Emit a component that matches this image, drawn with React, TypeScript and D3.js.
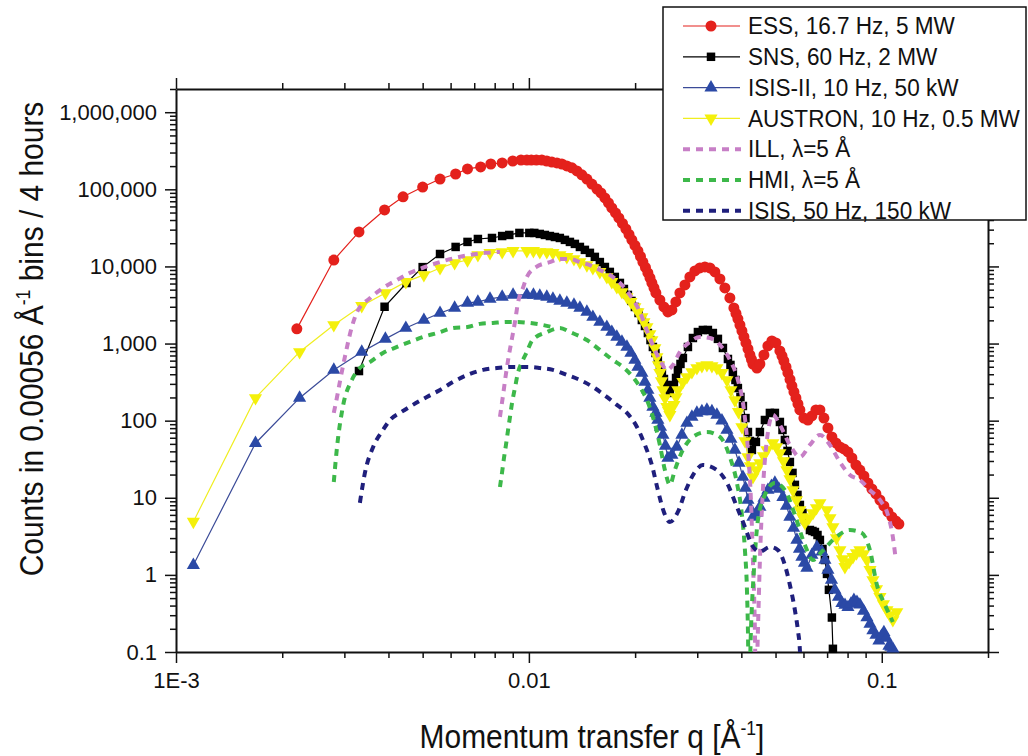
import React, { useEffect, useRef } from 'react';
import * as d3 from 'd3';

type Pt = [number, number];

// q [1/A], counts per 0.00056 1/A bin in 4 hours
const essData: Pt[] = [
  [0.0022, 1550], [0.0028, 12100], [0.0033, 28000], [0.0039, 54000], [0.0044, 80000],
  [0.005, 107000], [0.0056, 136000], [0.0062, 158000], [0.0067, 184000], [0.0073, 195000],
  [0.0078, 213000], [0.0084, 220000], [0.009, 233000], [0.0095, 240000], [0.00987, 240000],
  [0.01016, 240000], [0.0105, 240000], [0.01088, 240000], [0.01124, 233000], [0.01162, 226000],
  [0.01201, 220000], [0.0124, 213000], [0.01281, 201000], [0.01324, 190000], [0.01368, 173000],
  [0.01413, 154000], [0.0146, 136000], [0.01508, 117000], [0.01559, 101000], [0.016, 89800],
  [0.01642, 77300], [0.01681, 66600], [0.01718, 57400], [0.0176, 49400], [0.01799, 42600],
  [0.01842, 36100], [0.01883, 30600], [0.01922, 26000], [0.01958, 22100], [0.01998, 18700],
  [0.02037, 15900], [0.02071, 13500], [0.02104, 11400], [0.0214, 9700], [0.02174, 8240],
  [0.02204, 7100], [0.02231, 6110], [0.02262, 5260], [0.0229, 4530], [0.02351, 3670],
  [0.02413, 2980], [0.02477, 2570], [0.02542, 2730], [0.02609, 3470], [0.02679, 4530],
  [0.02768, 5750], [0.02859, 7310], [0.02954, 8750], [0.03052, 9550], [0.03153, 9840],
  [0.03258, 9550], [0.03366, 8490], [0.03478, 6890], [0.03593, 5260], [0.03712, 3900],
  [0.0381, 2900], [0.03862, 2460], [0.03911, 2090], [0.03964, 1740], [0.04015, 1460],
  [0.04069, 1220], [0.04122, 1020], [0.04177, 851], [0.0423, 711], [0.04274, 622],
  [0.04314, 543], [0.04428, 482], [0.04515, 543], [0.04635, 711], [0.04757, 931],
  [0.04882, 1080], [0.05012, 1020], [0.05144, 802], [0.05215, 690], [0.0528, 594],
  [0.05353, 497], [0.0542, 416], [0.05495, 342], [0.05563, 282], [0.05638, 236],
  [0.05711, 197], [0.05787, 165], [0.05861, 138], [0.06016, 108], [0.06176, 102],
  [0.06339, 115], [0.06507, 138], [0.06679, 138], [0.06856, 108], [0.07038, 80.4],
  [0.07222, 61.5], [0.07414, 51.4], [0.0761, 45.6], [0.07812, 43], [0.08019, 39.3],
  [0.08229, 32.8], [0.08448, 26.6], [0.0867, 22.9], [0.089, 19.2], [0.09136, 15.6],
  [0.09376, 13], [0.09625, 11.2], [0.0988, 9.36], [0.1014, 7.83], [0.1041, 6.55],
  [0.1068, 5.64], [0.1096, 5.0], [0.1118, 4.57],
];

const snsData: Pt[] = [
  [0.0033, 440], [0.0039, 3000], [0.0045, 6100], [0.005, 9800], [0.0056, 14500],
  [0.0062, 17900], [0.0067, 20800], [0.00717, 22700], [0.00786, 23400], [0.0084, 24800],
  [0.0088, 25600], [0.0094, 27200], [0.01003, 27200], [0.01036, 27200], [0.01074, 26400],
  [0.0111, 25600], [0.01147, 24800], [0.01185, 24100], [0.01224, 23400], [0.01265, 22100],
  [0.01307, 20800], [0.0135, 19600], [0.01395, 17900], [0.01441, 16400], [0.01489, 15000],
  [0.01538, 13300], [0.01589, 11400], [0.01642, 9840], [0.01696, 8490], [0.01752, 7310],
  [0.01811, 6110], [0.01859, 5100], [0.01908, 4270], [0.01953, 3570], [0.01997, 2980],
  [0.02045, 2490], [0.0209, 2020], [0.02133, 1690], [0.02174, 1370], [0.02211, 1110],
  [0.02246, 903], [0.02284, 755], [0.0232, 612], [0.02352, 512], [0.02382, 416],
  [0.02414, 347], [0.02445, 290], [0.02479, 258], [0.02509, 229], [0.02576, 290],
  [0.02612, 358], [0.02644, 455], [0.02689, 544], [0.02732, 650], [0.02823, 903],
  [0.02916, 1180], [0.03013, 1410], [0.03112, 1500], [0.03216, 1500], [0.03322, 1370],
  [0.03433, 1150], [0.03547, 877], [0.03665, 631], [0.03726, 528], [0.03785, 428],
  [0.03849, 337], [0.03911, 265], [0.03977, 203], [0.04041, 155], [0.04109, 108],
  [0.04176, 71.3], [0.04231, 54.5], [0.04285, 41.7], [0.04399, 53], [0.04515, 71.3],
  [0.04665, 102], [0.04819, 126], [0.04979, 126], [0.05144, 96.2], [0.05232, 75.8],
  [0.05315, 56.2], [0.05406, 40.5], [0.05491, 29.1], [0.05585, 21], [0.05673, 14.7],
  [0.05769, 10.9], [0.05861, 8.07], [0.05961, 6.35], [0.06056, 5.15], [0.06257, 3.82],
  [0.06362, 3.71], [0.06465, 3.6], [0.06574, 3.29], [0.06679, 2.84], [0.06792, 2.17],
  [0.069, 1.56], [0.06994, 1.03], [0.07083, 0.64], [0.07222, 0.28], [0.0727, 0.11],
];

const isis2Data: Pt[] = [
  [0.00112, 1.34], [0.00168, 51], [0.00224, 197], [0.0028, 455], [0.00336, 778],
  [0.00392, 1150], [0.00448, 1590], [0.00504, 2020], [0.0056, 2490], [0.00616, 2900],
  [0.0067, 3360], [0.00717, 3470], [0.00776, 3790], [0.0084, 4020], [0.00902, 4270],
  [0.00987, 4270], [0.0103, 4270], [0.01074, 4140], [0.01124, 4020], [0.0117, 3790],
  [0.01224, 3570], [0.01281, 3360], [0.01342, 3170], [0.01395, 2900], [0.0146, 2570],
  [0.01518, 2210], [0.01589, 1900], [0.01663, 1640], [0.01718, 1410], [0.01775, 1220],
  [0.01835, 1050], [0.01896, 903], [0.01946, 755], [0.01997, 612], [0.02037, 498],
  [0.0209, 416], [0.02132, 318], [0.02174, 250], [0.02202, 197], [0.02246, 151],
  [0.0229, 126], [0.0232, 102], [0.0236, 82.8], [0.02398, 65.3], [0.02438, 47],
  [0.02477, 32.8], [0.02542, 35.9], [0.02626, 45.6], [0.02714, 65.3], [0.02804, 93.3],
  [0.02897, 112], [0.02993, 126], [0.03092, 132], [0.03195, 138], [0.03301, 132],
  [0.0341, 119], [0.03524, 100], [0.03641, 75.7], [0.03737, 57.9], [0.03835, 41.7],
  [0.03939, 28.3], [0.04041, 18.6], [0.04109, 13.4], [0.04176, 9.36], [0.04245, 7.16],
  [0.04314, 5.64], [0.04416, 6.35], [0.04515, 7.6], [0.04637, 9.94], [0.04757, 12.6],
  [0.04869, 14.2], [0.04979, 15.6], [0.05113, 13], [0.05246, 10.2], [0.0537, 7.83],
  [0.05491, 5.64], [0.05621, 4.06], [0.05748, 2.84], [0.05845, 2.17], [0.05938, 1.71],
  [0.06039, 1.43], [0.06135, 1.23], [0.06339, 1.81], [0.0655, 2.3], [0.06766, 2.0],
  [0.06902, 1.56], [0.07038, 1.16], [0.07203, 0.86], [0.07366, 0.64], [0.07541, 0.517],
  [0.0771, 0.43], [0.07866, 0.407], [0.08019, 0.38], [0.08178, 0.42], [0.08338, 0.47],
  [0.08505, 0.445], [0.0867, 0.41], [0.08878, 0.34], [0.09076, 0.28], [0.09261, 0.231],
  [0.09438, 0.19], [0.09629, 0.166], [0.09815, 0.14], [0.09982, 0.161], [0.1014, 0.18],
  [0.1031, 0.152], [0.1048, 0.12], [0.1062, 0.116], [0.1075, 0.11],
];

const austronData: Pt[] = [
  [0.00112, 4.9], [0.00168, 197], [0.00224, 778], [0.0028, 1740], [0.00336, 3080],
  [0.00392, 4530], [0.00448, 6300], [0.00504, 7760], [0.0056, 9550], [0.00616, 11100],
  [0.0067, 12100], [0.00717, 14100], [0.00776, 15000], [0.0084, 15400], [0.00902, 15900],
  [0.00987, 15900], [0.0103, 15900], [0.01074, 15400], [0.01124, 15400], [0.0117, 15000],
  [0.01224, 14100], [0.01281, 13300], [0.01342, 12500], [0.01395, 11400], [0.0146, 10400],
  [0.01518, 9550], [0.01589, 8490], [0.01663, 7310], [0.01718, 6300], [0.01775, 5420],
  [0.01835, 4670], [0.01896, 4020], [0.01946, 3470], [0.01997, 2980], [0.02037, 2570],
  [0.0209, 2210], [0.02118, 1900], [0.0216, 1640], [0.02202, 1330], [0.02231, 1110],
  [0.02275, 877], [0.02305, 670], [0.02329, 528], [0.02351, 416], [0.02375, 327],
  [0.02398, 250], [0.0243, 197], [0.02461, 151], [0.02487, 134], [0.02509, 119],
  [0.02576, 160], [0.02612, 203], [0.02644, 250], [0.02732, 318], [0.02804, 369],
  [0.02897, 428], [0.02993, 482], [0.03092, 512], [0.03195, 527], [0.03301, 512],
  [0.0341, 482], [0.03524, 416], [0.03641, 337], [0.03737, 250], [0.03835, 185],
  [0.03926, 130], [0.04015, 82.8], [0.04096, 54.5], [0.04176, 33.8], [0.04245, 25.8],
  [0.04314, 18.6], [0.04416, 22.9], [0.04515, 28.3], [0.04622, 34.8], [0.04726, 41.7],
  [0.04914, 51.4], [0.0503, 45.6], [0.05144, 38.1], [0.05266, 30], [0.05385, 22.9],
  [0.05495, 17.5], [0.056, 12.6], [0.05732, 9.36], [0.05861, 6.95], [0.05961, 5.64],
  [0.06056, 4.71], [0.06219, 5.47], [0.06381, 6.35], [0.06531, 7.37], [0.06679, 8.56],
  [0.06992, 6.95], [0.07133, 5.47], [0.0727, 4.18], [0.07441, 3.01], [0.0761, 2.1],
  [0.07738, 1.61], [0.07863, 1.27], [0.08075, 1.47], [0.08284, 1.71], [0.08479, 1.92],
  [0.0867, 2.1], [0.08878, 1.87], [0.09076, 1.56], [0.09261, 1.16], [0.09438, 0.86],
  [0.0966, 0.656], [0.0988, 0.52], [0.1011, 0.42], [0.1034, 0.35], [0.1055, 0.302],
  [0.1075, 0.26], [0.1103, 0.33],
];

// reactor data, two detector settings each
const illLow: Pt[] = [
  [0.0028, 126], [0.00286, 203], [0.00292, 337], [0.00301, 670], [0.00315, 1640],
  [0.00326, 2570], [0.00355, 3900], [0.00386, 5260], [0.00423, 6680], [0.0046, 8240],
  [0.00508, 9840], [0.0056, 11400], [0.00617, 12900], [0.00681, 14100], [0.0075, 15000],
  [0.00828, 15400],
];
const illHigh: Pt[] = [
  [0.00828, 112], [0.00845, 215], [0.00861, 403], [0.00878, 711], [0.00896, 1180],
  [0.00913, 1900], [0.00931, 3360], [0.00962, 5260], [0.00987, 7310], [0.0105, 9840],
  [0.01147, 11400], [0.01224, 12500], [0.01307, 12500], [0.01395, 11400], [0.01489, 10400],
  [0.01589, 9000], [0.01696, 7760], [0.01811, 6110], [0.01933, 4270], [0.02063, 2570],
  [0.02174, 1370], [0.02275, 826], [0.02367, 577], [0.02461, 455], [0.02559, 527],
  [0.02679, 778], [0.02859, 1050], [0.03052, 1220], [0.03258, 1180], [0.03478, 959],
  [0.03712, 612], [0.03911, 337], [0.04068, 138], [0.04176, 41.7], [0.04258, 9.4],
  [0.04314, 1.56], [0.0437, 0.19], [0.04399, 0.024], [0.04457, 0.19], [0.04515, 1.56],
  [0.04604, 12.6], [0.04726, 56.2], [0.04914, 119], [0.05144, 87.9], [0.05491, 48.4],
  [0.05861, 33.8], [0.06257, 48.4], [0.06679, 65.3], [0.07129, 48.4], [0.0761, 29.1],
  [0.08123, 19.8], [0.0867, 17], [0.09255, 12.6], [0.0988, 9.36], [0.1041, 5.98],
  [0.1075, 3.1], [0.1096, 1.56],
];

const hmiLow: Pt[] = [
  [0.0028, 16], [0.00286, 45.6], [0.00297, 151], [0.00315, 337], [0.00328, 455],
  [0.00355, 577], [0.00386, 755], [0.00423, 903], [0.0046, 1050], [0.00502, 1220],
  [0.00549, 1370], [0.0061, 1590], [0.0067, 1640], [0.00727, 1800], [0.00791, 1850],
  [0.00867, 1900], [0.00931, 1900], [0.01003, 1850], [0.01095, 1740], [0.01193, 1590],
];
const hmiHigh: Pt[] = [
  [0.00828, 13.8], [0.00839, 21], [0.0085, 32.8], [0.00861, 48.4], [0.00873, 75.7],
  [0.00884, 112], [0.00896, 170], [0.00913, 265], [0.00931, 416], [0.00956, 577],
  [0.00987, 778], [0.01023, 1110], [0.01124, 1410], [0.01224, 1590], [0.01307, 1410],
  [0.0146, 1110], [0.01589, 826], [0.0173, 612], [0.01847, 498], [0.01971, 369],
  [0.02063, 274], [0.0216, 185], [0.02246, 112], [0.02351, 48.4], [0.02429, 22.9],
  [0.02509, 14.7], [0.02592, 22.9], [0.02714, 39.3], [0.02916, 61.5], [0.03195, 71.3],
  [0.03478, 61.5], [0.03712, 33.8], [0.03886, 15.6], [0.04015, 5.98], [0.04095, 2.1],
  [0.04149, 0.64], [0.04176, 0.19], [0.04203, 0.025], [0.04258, 0.19], [0.04342, 1.16],
  [0.04457, 5.15], [0.04665, 10.9], [0.04979, 15.6], [0.05315, 12.6], [0.05673, 5.98],
  [0.06056, 2.44], [0.06381, 1.56], [0.06766, 2.0], [0.07366, 3.0], [0.08123, 3.82],
  [0.08784, 3.5], [0.09255, 2.1], [0.09688, 0.74], [0.1021, 0.41], [0.1075, 0.245],
];

const isisData: Pt[] = [
  [0.00332, 8.6], [0.00343, 21], [0.00362, 45.6], [0.00386, 75.7], [0.00404, 102],
  [0.00431, 126], [0.00469, 160], [0.00514, 203], [0.0056, 250], [0.0061, 318],
  [0.0067, 392], [0.00741, 455], [0.00812, 482], [0.00902, 498], [0.00987, 498],
  [0.01074, 482], [0.0117, 455], [0.01281, 392], [0.01395, 337], [0.01518, 274],
  [0.01663, 203], [0.01775, 160], [0.01896, 126], [0.02024, 82.8], [0.02132, 48.4],
  [0.02231, 26.6], [0.0232, 12.6], [0.02413, 6.55], [0.02509, 4.85], [0.02644, 6.55],
  [0.02786, 12.6], [0.02954, 21.6], [0.03112, 26.6], [0.0341, 22.9], [0.03641, 15.6],
  [0.03886, 7.6], [0.04095, 4.18], [0.04285, 2.44], [0.04515, 2.0], [0.04819, 2.3],
  [0.05078, 2.1], [0.05315, 1.34], [0.05491, 0.74], [0.05673, 0.35], [0.05786, 0.19],
  [0.05861, 0.106], [0.059, 0.04],
];

const legendLabels = [
  'ESS, 16.7 Hz, 5 MW',
  'SNS, 60 Hz, 2 MW',
  'ISIS-II, 10 Hz, 50 kW',
  'AUSTRON, 10 Hz, 0.5 MW',
  'ILL, \u03bb=5 \u00c5',
  'HMI, \u03bb=5 \u00c5',
  'ISIS, 50 Hz, 150 kW',
];

const xMajorTicks = [0.001, 0.01, 0.1];
const xTickLabels = ['1E-3', '0.01', '0.1'];
const yMajorTicks = [0.1, 1, 10, 100, 1000, 10000, 100000, 1000000];
const yTickLabels = ['0.1', '1', '10', '100', '1,000', '10,000', '100,000', '1,000,000'];

const W = 1028;
const H = 756;
const plot = { left: 176, right: 988, top: 89, bottom: 652 };
const FONT = '"Liberation Sans", Arial, Helvetica, sans-serif';
const DASH = '7,6';

const markerSeries = [
  { data: essData, color: '#e4211c', line: '#e4211c', type: d3.symbolCircle, size: 95, rot: 0 },
  { data: snsData, color: '#000000', line: '#000000', type: d3.symbolSquare, size: 72, rot: 0 },
  { data: isis2Data, color: '#2b49a6', line: '#3b4b98', type: d3.symbolTriangle, size: 75, rot: 0 },
  { data: austronData, color: '#f4f00a', line: '#f0ee20', type: d3.symbolTriangle, size: 75, rot: 180 },
];

const dashedSeries = [
  { parts: [illLow, illHigh], color: '#c77fc6' },
  { parts: [hmiLow, hmiHigh], color: '#3db84a' },
  { parts: [isisData], color: '#1f1f7c' },
];

const isMajor = (v: number) => Math.abs(Math.log10(v) - Math.round(Math.log10(v))) < 1e-6;

function draw(svgEl: SVGSVGElement) {
  const svg = d3.select(svgEl);
  svg.selectAll('*').remove();

  const x = d3.scaleLog().domain([1e-3, 0.2]).range([plot.left, plot.right]);
  const y = d3.scaleLog().domain([0.1, 2e6]).range([plot.bottom, plot.top]);

  svg.append('rect').attr('width', W).attr('height', H).attr('fill', '#fff');

  const xMinor = x.ticks().filter((v) => !isMajor(v));
  const yMinor = y.ticks().filter((v) => !isMajor(v));

  const addAxis = (axis: any, tx: number, ty: number, keepDomain: boolean) => {
    const g = svg.append('g').attr('transform', `translate(${tx},${ty})`).call(axis);
    g.attr('font-family', FONT).attr('font-size', 22);
    g.selectAll('.tick line').attr('stroke-width', 1.5).attr('stroke', '#111');
    g.selectAll('.tick text').attr('fill', '#111');
    if (keepDomain) g.select('.domain').attr('stroke-width', 2).attr('stroke', '#111');
    else g.select('.domain').remove();
    return g;
  };
  const blank = () => '';

  // bottom
  addAxis(d3.axisBottom(x).tickValues(xMinor).tickFormat(blank).tickSize(6).tickSizeOuter(0), 0, plot.bottom, false);
  addAxis(
    d3.axisBottom(x).tickValues(xMajorTicks).tickFormat((d, i) => xTickLabels[i]).tickSize(11).tickSizeOuter(0).tickPadding(9),
    0, plot.bottom, true,
  );
  // top
  addAxis(d3.axisTop(x).tickValues(xMinor).tickFormat(blank).tickSize(6).tickSizeOuter(0), 0, plot.top, false);
  addAxis(d3.axisTop(x).tickValues(xMajorTicks).tickFormat(blank).tickSize(11).tickSizeOuter(0), 0, plot.top, true);
  // left
  addAxis(d3.axisLeft(y).tickValues(yMinor).tickFormat(blank).tickSize(6).tickSizeOuter(0), plot.left, 0, false);
  addAxis(
    d3.axisLeft(y).tickValues(yMajorTicks).tickFormat((d, i) => yTickLabels[i]).tickSize(11).tickSizeOuter(0).tickPadding(8),
    plot.left, 0, true,
  );
  // right
  addAxis(d3.axisRight(y).tickValues(yMinor).tickFormat(blank).tickSize(6).tickSizeOuter(0), plot.right, 0, false);
  addAxis(d3.axisRight(y).tickValues(yMajorTicks).tickFormat(blank).tickSize(11).tickSizeOuter(0), plot.right, 0, true);

  svg.append('clipPath').attr('id', 'plotClip')
    .append('rect')
    .attr('x', plot.left).attr('y', plot.top)
    .attr('width', plot.right - plot.left).attr('height', plot.bottom - plot.top);

  const straight = d3.line<Pt>().x((d) => x(d[0])).y((d) => y(d[1]));
  const smooth = d3.line<Pt>().x((d) => x(d[0])).y((d) => y(d[1])).curve(d3.curveMonotoneX);

  markerSeries.forEach((s) => {
    const g = svg.append('g');
    g.append('path').attr('d', straight(s.data)).attr('fill', 'none').attr('stroke', s.line).attr('stroke-width', 1.2);
    const sym = d3.symbol().type(s.type).size(s.size)();
    g.selectAll('path.m').data(s.data).join('path')
      .attr('class', 'm')
      .attr('d', sym)
      .attr('transform', (d) => `translate(${x(d[0])},${y(d[1])}) rotate(${s.rot})`)
      .attr('fill', s.color);
  });

  dashedSeries.forEach((s) => {
    const g = svg.append('g').attr('clip-path', 'url(#plotClip)');
    s.parts.forEach((p) => {
      g.append('path').attr('d', smooth(p)).attr('fill', 'none')
        .attr('stroke', s.color).attr('stroke-width', 4).attr('stroke-dasharray', DASH);
    });
  });

  // legend
  const lg = svg.append('g');
  lg.append('rect').attr('x', 663).attr('y', 7).attr('width', 363).attr('height', 213)
    .attr('fill', '#fff').attr('stroke', '#111').attr('stroke-width', 1.5);
  legendLabels.forEach((label, i) => {
    const cy = 26 + i * 30.8;
    const row = lg.append('g');
    if (i < markerSeries.length) {
      const s = markerSeries[i];
      row.append('line').attr('x1', 683).attr('x2', 740).attr('y1', cy).attr('y2', cy)
        .attr('stroke', s.line).attr('stroke-width', 1.2);
      row.append('path').attr('d', d3.symbol().type(s.type).size(s.size)())
        .attr('transform', `translate(711,${cy}) rotate(${s.rot})`).attr('fill', s.color);
    } else {
      const s = dashedSeries[i - markerSeries.length];
      row.append('line').attr('x1', 683).attr('x2', 741).attr('y1', cy).attr('y2', cy)
        .attr('stroke', s.color).attr('stroke-width', 4).attr('stroke-dasharray', DASH);
    }
    row.append('text')
      .attr('transform', `translate(748,${cy}) scale(0.94,1)`)
      .attr('dominant-baseline', 'central')
      .attr('font-family', FONT).attr('font-size', 24).attr('fill', '#111')
      .text(label);
  });

  // axis titles
  const xt = svg.append('text')
    .attr('transform', `translate(592,748) scale(0.88,1)`)
    .attr('text-anchor', 'middle')
    .attr('font-family', FONT).attr('font-size', 34).attr('fill', '#111');
  xt.append('tspan').text('Momentum transfer q [\u00c5');
  xt.append('tspan').attr('font-size', 20).attr('dy', -13).text('-1');
  xt.append('tspan').attr('dy', 13).text(']');

  const yt = svg.append('text')
    .attr('transform', `translate(43,339) rotate(-90) scale(0.88,1)`)
    .attr('text-anchor', 'middle')
    .attr('font-family', FONT).attr('font-size', 34).attr('fill', '#111');
  yt.append('tspan').text('Counts in 0.00056 \u00c5');
  yt.append('tspan').attr('font-size', 20).attr('dy', -13).text('-1');
  yt.append('tspan').attr('dy', 13).text(' bins / 4 hours');
}

export default function App() {
  const ref = useRef<SVGSVGElement>(null);

  useEffect(() => {
    if (ref.current) draw(ref.current);
  }, []);

  return (
    <svg
      ref={ref}
      width={W}
      height={H}
      style={{ position: 'absolute', left: 0, top: 0, display: 'block' }}
    />
  );
}
